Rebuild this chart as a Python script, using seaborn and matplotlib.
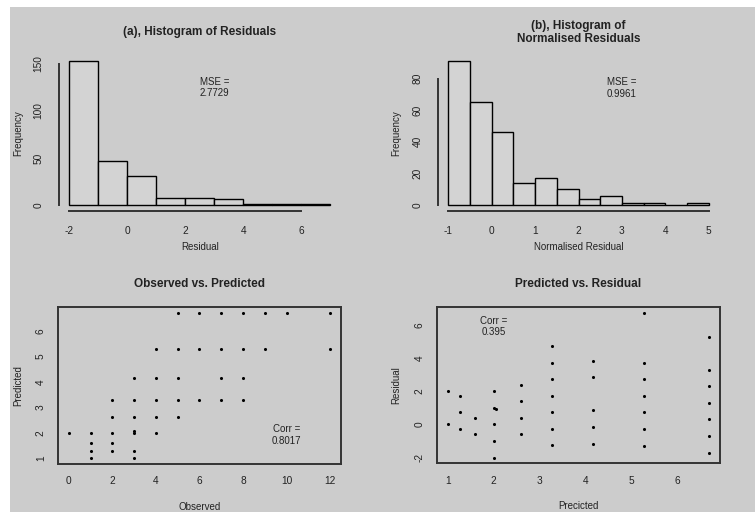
import numpy as np
import pandas as pd
import matplotlib
matplotlib.use("Agg")
import matplotlib.pyplot as plt
import seaborn as sns
from matplotlib.patches import Rectangle

# ---------------- data ----------------
resid_edges = [-2, -1, 0, 1, 2, 3, 4, 5, 6, 7]
resid_counts = [153, 47, 31, 8, 7, 6, 1, 1, 1]

norm_edges = [-1, -0.5, 0, 0.5, 1, 1.5, 2, 2.5, 3, 3.5, 4, 4.5, 5]
norm_counts = [91, 65, 46, 14, 17, 10, 4, 6, 1, 1, 0, 1]

observed = [1, 3,
            1, 2, 3,
            1, 2,
            0, 1, 2, 3, 4,
            3,
            2, 3, 4, 5,
            2, 3, 4, 5, 6, 7, 8,
            3, 4, 5, 7, 8,
            4, 5, 6, 7, 8, 9, 12,
            5, 6, 7, 8, 9, 10, 12]
predicted = [1.0, 1.0,
             1.27, 1.27, 1.27,
             1.6, 1.6,
             2.0, 2.0, 2.0, 2.0, 2.0,
             2.05,
             2.6, 2.6, 2.6, 2.6,
             3.27, 3.27, 3.27, 3.27, 3.27, 3.27, 3.27,
             4.16, 4.16, 4.16, 4.16, 4.16,
             5.28, 5.28, 5.28, 5.28, 5.28, 5.28, 5.28,
             6.7, 6.7, 6.7, 6.7, 6.7, 6.7, 6.7]
residual = [0, 2,
            -0.27, 0.73, 1.73,
            -0.6, 0.4,
            -2, -1, 0, 1, 2,
            0.95,
            -0.6, 0.4, 1.4, 2.4,
            -1.27, -0.27, 0.73, 1.73, 2.73, 3.73, 4.73,
            -1.16, -0.16, 0.84, 2.84, 3.84,
            -1.28, -0.28, 0.72, 1.72, 2.72, 3.72, 6.72,
            -1.7, -0.7, 0.3, 1.3, 2.3, 3.3, 5.3]

titles = ["(a), Histogram of Residuals", "(b), Histogram of\nNormalised Residuals",
          "Observed vs. Predicted", "Predicted vs. Residual"]
mse_a = "MSE =\n2.7729"
mse_b = "MSE =\n0.9961"
corr_c = "Corr =\n0.8017"
corr_d = "Corr =\n0.395"

# ---------------- style ----------------
sns.set_theme(style="white")
plt.rcParams["font.family"] = ["Liberation Sans", "DejaVu Sans"]
plt.rcParams["axes.unicode_minus"] = False
BG = "#cccccc"
INK = "#222222"
AX = "#333333"

W, H = 755, 512
fig = plt.figure(figsize=(W / 100, H / 100), dpi=100, facecolor="white")
fig.patches.append(Rectangle((10 / W, 0), 1 - 10 / W, (H - 7) / H,
                             transform=fig.transFigure, facecolor=BG,
                             edgecolor="none", zorder=-10))


def px_axes(l, t, r, b):
    return fig.add_axes([l / W, (H - b) / H, (r - l) / W, (b - t) / H])


def rlim(lo, hi):
    p = 0.04 * (hi - lo)
    return lo - p, hi + p


def style_common(ax, title, xlabel, ylabel, xlab_off, ylab_off, axh, axw):
    ax.set_facecolor("none")
    ax.annotate(title, xy=(0.5, 1), xycoords="axes fraction",
                xytext=(0, 16.5), textcoords="offset points",
                ha="center", va="center", fontsize=8.5, fontweight="bold",
                color=INK, linespacing=1.15)
    ax.set_xlabel(xlabel, fontsize=7, color=INK)
    ax.set_ylabel(ylabel, fontsize=7, color=INK)
    ax.xaxis.set_label_coords(0.5, -xlab_off / axh)
    ax.xaxis.label.set_va("center")
    ax.yaxis.set_label_coords(-ylab_off / axw, 0.5)
    ax.yaxis.label.set_va("center")
    ax.tick_params(axis="both", direction="out", length=5, width=1.1,
                   color=AX, labelsize=7.3, labelcolor=INK)
    for lab in ax.get_yticklabels():
        lab.set_rotation(90)
        lab.set_va("center")


# ---------------- (a) ----------------
ax = px_axes(59, 55.4, 340.7, 210.8)
centers = [(resid_edges[i] + resid_edges[i + 1]) / 2 for i in range(len(resid_counts))]
sns.histplot(x=centers, weights=resid_counts, bins=resid_edges, ax=ax,
             color="#d3d3d3", edgecolor="black", linewidth=1.0, alpha=1)
ax.set_xlim(*rlim(min(resid_edges), max(resid_edges)))
ax.set_ylim(*rlim(0, max(resid_counts)))
ax.set_xticks([-2, 0, 2, 4, 6])
ax.set_yticks([0, 50, 100, 150])
for s in ["top", "right"]:
    ax.spines[s].set_visible(False)
ax.spines["bottom"].set_bounds(-2, 6)
ax.spines["left"].set_bounds(0, 150)
for s in ["bottom", "left"]:
    ax.spines[s].set_color(AX)
    ax.spines[s].set_linewidth(1.4)
style_common(ax, titles[0], "Residual", "Frequency", 36, 41, 155.4, 281.7)
ax.tick_params(axis="x", pad=6)
ax.tick_params(axis="y", pad=6)
ax.text(3, 125, mse_a, ha="center", va="center", fontsize=7, color=INK)

# ---------------- (b) ----------------
ax = px_axes(438, 55.4, 719, 210.8)
centers = [(norm_edges[i] + norm_edges[i + 1]) / 2 for i in range(len(norm_counts))]
sns.histplot(x=centers, weights=norm_counts, bins=norm_edges, ax=ax,
             color="#d3d3d3", edgecolor="black", linewidth=1.0, alpha=1)
ax.set_xlim(*rlim(min(norm_edges), max(norm_edges)))
ax.set_ylim(*rlim(0, max(norm_counts)))
ax.set_xticks([-1, 0, 1, 2, 3, 4, 5])
ax.set_yticks([0, 20, 40, 60, 80])
for s in ["top", "right"]:
    ax.spines[s].set_visible(False)
ax.spines["bottom"].set_bounds(-1, 5)
ax.spines["left"].set_bounds(0, 80)
for s in ["bottom", "left"]:
    ax.spines[s].set_color(AX)
    ax.spines[s].set_linewidth(1.4)
style_common(ax, titles[1], "Normalised Residual", "Frequency", 36, 41.6, 155.4, 281)
ax.tick_params(axis="x", pad=6)
ax.tick_params(axis="y", pad=6)
ax.text(3, 74, mse_b, ha="center", va="center", fontsize=7, color=INK)

# ---------------- (c) ----------------
df = pd.DataFrame({"Observed": observed, "Predicted": predicted, "Residual": residual})
ax = px_axes(58.3, 307.3, 340.7, 464)
sns.scatterplot(data=df, x="Observed", y="Predicted", ax=ax, color="black",
                s=5, marker="o", linewidth=0)
ax.set_xlim(*rlim(min(observed), max(observed)))
ax.set_ylim(*rlim(min(predicted), max(predicted)))
ax.set_xticks([0, 2, 4, 6, 8, 10, 12])
ax.set_yticks([1, 2, 3, 4, 5, 6])
for s in ax.spines.values():
    s.set_visible(True)
    s.set_color(AX)
    s.set_linewidth(1.4)
style_common(ax, titles[2], "Observed", "Predicted", 42.7, 40, 156.7, 282.4)
ax.tick_params(axis="x", pad=4)
ax.tick_params(axis="y", pad=4)
ax.text(10, 1.92, corr_c, ha="center", va="center", fontsize=7, color=INK)

# ---------------- (d) ----------------
ax = px_axes(437.3, 307.3, 719.7, 463.3)
sns.scatterplot(data=df, x="Predicted", y="Residual", ax=ax, color="black",
                s=5, marker="o", linewidth=0)
ax.set_xlim(*rlim(min(predicted), max(predicted)))
ax.set_ylim(*rlim(min(residual), max(residual)))
ax.set_xticks([1, 2, 3, 4, 5, 6])
ax.set_yticks([-2, 0, 2, 4, 6])
for s in ax.spines.values():
    s.set_visible(True)
    s.set_color(AX)
    s.set_linewidth(1.4)
style_common(ax, titles[3], "Precicted", "Residual", 42.7, 41, 156, 282.4)
ax.tick_params(axis="x", pad=4)
ax.tick_params(axis="y", pad=4)
ax.text(2.0, 5.9, corr_d, ha="center", va="center", fontsize=7, color=INK)

fig.savefig("out.png", dpi=100, facecolor="white")
